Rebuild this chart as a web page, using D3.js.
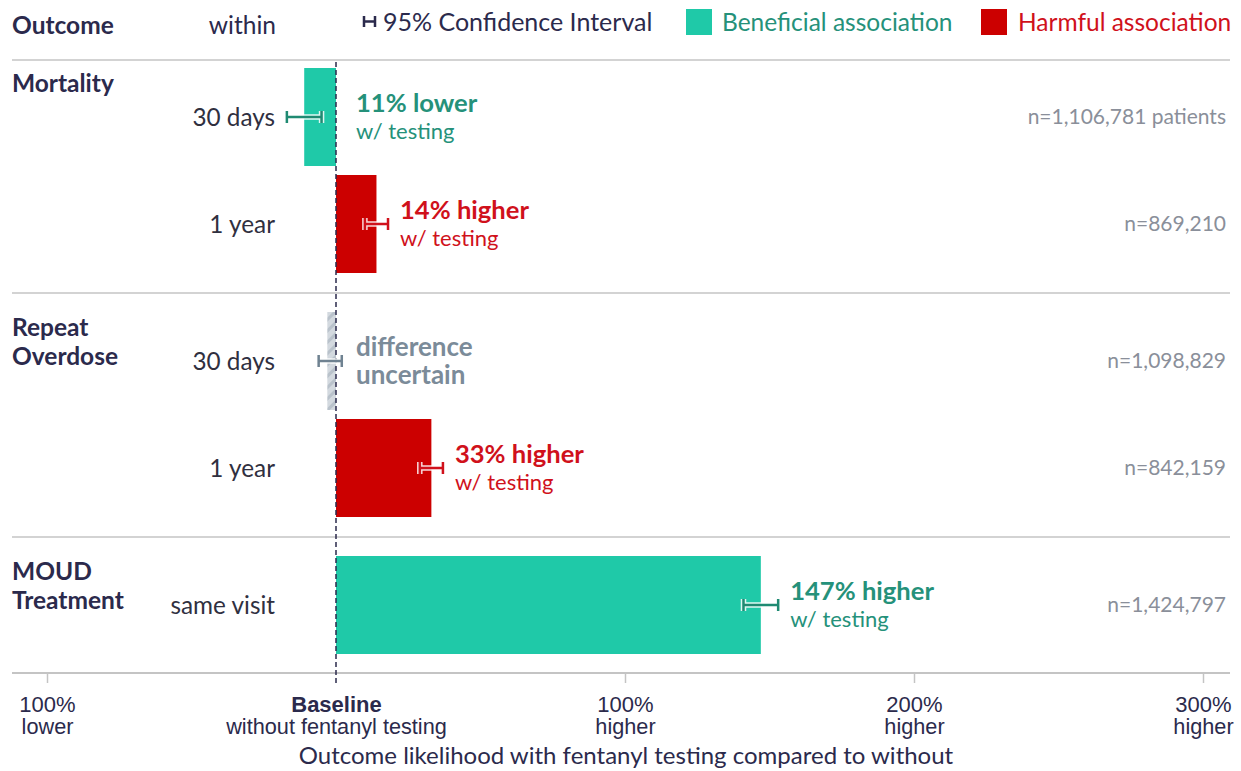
<!DOCTYPE html>
<html>
<head>
<meta charset="utf-8">
<script src="https://cdn.jsdelivr.net/npm/d3@7"></script>
<style>
  html, body { margin: 0; padding: 0; background: #fff; }
  svg { display: block; font-family: Lato, "Open Sans", sans-serif; }
</style>
</head>
<body>
<div id="chart"></div>
<script>
// data
const groups = ["Mortality", "Repeat Overdose", "MOUD Treatment"];
const groupLines = [["Mortality"], ["Repeat", "Overdose"], ["MOUD", "Treatment"]];
const rowGroup = [0, 0, 1, 1, 2];
const windows = ["30 days", "1 year", "30 days", "1 year", "same visit"];
const estimates = [-11, 14, -3, 33, 147];
const ciLow = [-17, 10, -6, 29, 141];
const ciHigh = [-5, 18, 2, 37, 153];
const association = ["beneficial", "harmful", "uncertain", "harmful", "beneficial"];
const labelTop = ["11% lower", "14% higher", "difference", "33% higher", "147% higher"];
const labelBottom = ["w/ testing", "w/ testing", "uncertain", "w/ testing", "w/ testing"];
const sampleSizes = ["n=1,106,781 patients", "n=869,210", "n=1,098,829", "n=842,159", "n=1,424,797"];
const xTickValues = [-100, 0, 100, 200, 300];
const xTickTop = ["100%", "Baseline", "100%", "200%", "300%"];
const xTickBottom = ["lower", "without fentanyl testing", "higher", "higher", "higher"];

const W = 1241, H = 771;
const ink = "#2b2a4c";
const grid = "#c4c4c4";
const colors = {
  beneficial: { bar: "#1fc9a8", err: "#1f8a72", text: "#25917a" },
  harmful: { bar: "#cc0000", err: "#d0111b", text: "#d0111b" },
  uncertain: { bar: "#cdd4db", err: "#6f8291", text: "#7b8b99" }
};

const svg = d3.select("#chart").append("svg")
  .attr("width", W).attr("height", H);

// hatched fill for the uncertain bar
const pat = svg.append("defs").append("pattern")
  .attr("id", "hatch").attr("patternUnits", "userSpaceOnUse")
  .attr("width", 8).attr("height", 8)
  .attr("patternTransform", "rotate(45)");
pat.append("rect").attr("width", 8).attr("height", 8).attr("fill", "#d3d9df");
pat.append("rect").attr("width", 3).attr("height", 8).attr("fill", "#b9c2cb");

// scales
const x = d3.scaleLinear().domain([-100, 300]).range([47, 1203]);
const rows = d3.range(windows.length);
const rowStep = 107, barPad = 9, groupGap = 30, topY = 68;
const yBand = d3.scaleBand().domain(rows)
  .range([0, rowStep * rows.length - barPad])
  .paddingInner(barPad / rowStep).paddingOuter(0);
const y = i => topY + yBand(i) + rowGroup[i] * groupGap;
const bh = yBand.bandwidth();

const left = 12, right = 1230;

// header
svg.append("text").attr("x", left).attr("y", 25).attr("dy", "0.35em")
  .attr("font-size", 24.5).attr("font-weight", 700).attr("fill", ink).text("Outcome");
svg.append("text").attr("x", 276).attr("y", 25).attr("dy", "0.35em")
  .attr("text-anchor", "end").attr("font-size", 24.5).attr("fill", ink).text("within");

// legend
const lg = svg.append("g");
lg.append("path").attr("d", "M364,16V27M364,21.5H375M375,16V27")
  .attr("stroke", ink).attr("stroke-width", 2.5).attr("fill", "none");
lg.append("text").attr("x", 383).attr("y", 22).attr("dy", "0.35em")
  .attr("font-size", 25).attr("fill", ink).text("95% Confidence Interval");
lg.append("rect").attr("x", 686).attr("y", 9).attr("width", 26).attr("height", 26)
  .attr("fill", colors.beneficial.bar);
lg.append("text").attr("x", 722).attr("y", 22).attr("dy", "0.35em")
  .attr("font-size", 24.5).attr("fill", colors.beneficial.text).text("Beneficial association");
lg.append("rect").attr("x", 981).attr("y", 9).attr("width", 26).attr("height", 26)
  .attr("fill", colors.harmful.bar);
lg.append("text").attr("x", 1018).attr("y", 22).attr("dy", "0.35em")
  .attr("font-size", 24.5).attr("fill", colors.harmful.text).text("Harmful association");

// separators: header line, between groups
const sepY = [topY - 8];
groups.forEach((g, gi) => {
  const last = d3.max(rows.filter(i => rowGroup[i] === gi));
  if (gi < groups.length - 1) sepY.push(y(last) + bh + 20);
});
svg.append("g").selectAll("line").data(sepY).join("line")
  .attr("x1", left).attr("x2", right)
  .attr("y1", d => d).attr("y2", d => d)
  .attr("stroke", grid).attr("stroke-width", 1.5);

// group labels
groups.forEach((g, gi) => {
  const first = d3.min(rows.filter(i => rowGroup[i] === gi));
  const t = svg.append("text").attr("x", left).attr("font-size", 24.5)
    .attr("font-weight", 700).attr("fill", ink);
  groupLines[gi].forEach((ln, k) => {
    t.append("tspan").attr("x", left).attr("y", y(first) + 15 + k * 29)
      .attr("dy", "0.35em").text(ln);
  });
});

// row labels
svg.append("g").selectAll("text").data(rows).join("text")
  .attr("x", 275).attr("y", i => y(i) + bh / 2).attr("dy", "0.35em")
  .attr("text-anchor", "end").attr("font-size", 24.3).attr("fill", "#30303f")
  .text(i => windows[i]);

// bars
svg.append("g").selectAll("rect").data(rows).join("rect")
  .attr("x", i => x(Math.min(0, estimates[i])))
  .attr("width", i => Math.abs(x(estimates[i]) - x(0)))
  .attr("y", i => y(i)).attr("height", bh)
  .attr("fill", i => association[i] === "uncertain" ? "url(#hatch)" : colors[association[i]].bar);

// x axis
const axisY = y(rows.length - 1) + bh + 19;
const axis = svg.append("g").attr("transform", `translate(0,${axisY})`)
  .call(d3.axisBottom(x).tickValues(xTickValues).tickSize(10).tickFormat(""));
axis.select(".domain").remove();
axis.selectAll(".tick line").attr("stroke", grid).attr("stroke-width", 1.5);
axis.selectAll(".tick").filter(d => d === 0).select("line").remove();
svg.append("line").attr("x1", left).attr("x2", right)
  .attr("y1", axisY).attr("y2", axisY).attr("stroke", grid).attr("stroke-width", 2);

axis.selectAll(".tick").each(function(d, k) {
  const g = d3.select(this);
  g.append("text").attr("y", 31).attr("dy", "0.35em").attr("text-anchor", "middle")
    .attr("font-size", 22).attr("fill", ink)
    .attr("font-weight", d === 0 ? 700 : 400).text(xTickTop[k]);
  g.append("text").attr("y", 53).attr("dy", "0.35em").attr("text-anchor", "middle")
    .attr("font-size", 21.7).attr("fill", ink).text(xTickBottom[k]);
});
svg.append("text").attr("x", 626).attr("y", axisY + 83).attr("dy", "0.35em")
  .attr("text-anchor", "middle").attr("font-size", 24).attr("fill", ink)
  .text("Outcome likelihood with fentanyl testing compared to without");

// baseline dashed line
svg.append("line").attr("x1", x(0)).attr("x2", x(0))
  .attr("y1", topY - 6).attr("y2", axisY + 10)
  .attr("stroke", ink).attr("stroke-width", 1.5).attr("stroke-dasharray", "5,3");

// error bars (white halo, then coloured)
const errPath = i => {
  const cy = y(i) + bh / 2, a = x(ciLow[i]), b = x(ciHigh[i]);
  return `M${a},${cy - 6}V${cy + 6}M${a},${cy}H${b}M${b},${cy - 6}V${cy + 6}`;
};
const eg = svg.append("g");
eg.selectAll("path.halo").data(rows).join("path").attr("class", "halo")
  .attr("d", errPath).attr("fill", "none").attr("stroke", "#fff")
  .attr("stroke-width", 5.5).attr("stroke-opacity", 0.85);
eg.selectAll("path.err").data(rows).join("path").attr("class", "err")
  .attr("d", errPath).attr("fill", "none")
  .attr("stroke", i => colors[association[i]].err).attr("stroke-width", 2.5);

// value labels
const lx = i => Math.max(x(0) + 20, x(ciHigh[i]) + 12);
const vl = svg.append("g");
vl.selectAll("text.top").data(rows).join("text").attr("class", "top")
  .attr("x", lx).attr("y", i => y(i) + bh / 2 - 14).attr("dy", "0.35em")
  .attr("font-size", i => association[i] === "uncertain" ? 26 : 25.6).attr("font-weight", 700)
  .attr("fill", i => colors[association[i]].text).text(i => labelTop[i]);
vl.selectAll("text.bot").data(rows).join("text").attr("class", "bot")
  .attr("x", lx).attr("y", i => y(i) + bh / 2 + 14).attr("dy", "0.35em")
  .attr("font-size", i => association[i] === "uncertain" ? 26 : 22)
  .attr("font-weight", i => association[i] === "uncertain" ? 700 : 400)
  .attr("fill", i => colors[association[i]].text).text(i => labelBottom[i]);

// sample sizes
svg.append("g").selectAll("text").data(rows).join("text")
  .attr("x", 1226).attr("y", i => y(i) + bh / 2).attr("dy", "0.35em")
  .attr("text-anchor", "end").attr("font-size", 21).attr("fill", "#8a8f9a")
  .text(i => sampleSizes[i]);
</script>
</body>
</html>
